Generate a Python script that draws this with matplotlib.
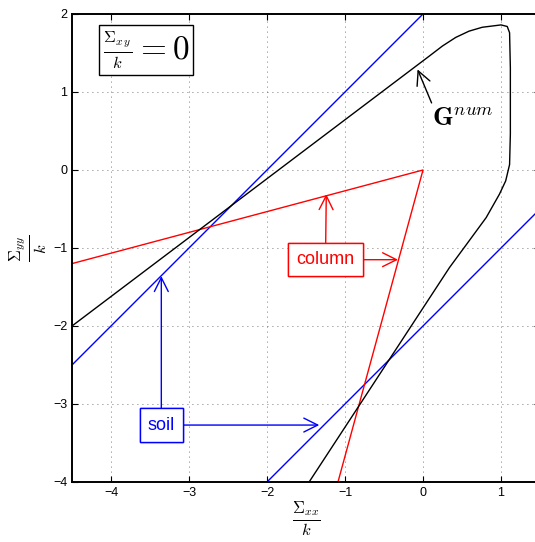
import numpy as np
import matplotlib
matplotlib.use('Agg')
import matplotlib.pyplot as plt

plt.rcParams['font.family'] = ['Liberation Sans', 'DejaVu Sans']
plt.rcParams['mathtext.fontset'] = 'cm'

#===============================================================================
# data
soil_upper_x = [-4.5, 0.0]
soil_upper_y = [-2.5, 2.0]
soil_lower_x = [-2.0, 1.5]
soil_lower_y = [-4.0, -0.5]

column_x = [-4.5, 0.0, -1.09]
column_y = [-1.2, 0.0, -4.0]

gnum_x = [-4.5, 0.08, 0.25, 0.42, 0.59, 0.76, 1.0, 1.08, 1.11, 1.12, 1.12,
          1.11, 1.06, 0.98, 0.81, 0.59, 0.34, -1.46]
gnum_y = [-2.0, 1.46, 1.59, 1.70, 1.78, 1.83, 1.86, 1.84, 1.76, 1.31, 0.46,
          0.07, -0.14, -0.31, -0.61, -0.91, -1.25, -4.0]

xticks = [-4, -3, -2, -1, 0, 1]
yticks = [-4, -3, -2, -1, 0, 1, 2]

#===============================================================================
fig = plt.figure(figsize=(5.35, 5.42), dpi=100)
ax = fig.add_axes([72/535, 60/542, 468/535, 468/542])

ax.plot(soil_upper_x, soil_upper_y, color='b', lw=1)
ax.plot(soil_lower_x, soil_lower_y, color='b', lw=1)
ax.plot(column_x, column_y, color='r', lw=1)
ax.plot(gnum_x, gnum_y, color='k', lw=1)

ax.set_xlim(-4.5, 1.5)
ax.set_ylim(-4, 2)
ax.set_xticks(xticks)
ax.set_yticks(yticks)
ax.set_xticklabels([str(t).replace('-', '\u2212') for t in xticks])
ax.set_yticklabels([str(t).replace('-', '\u2212') for t in yticks])
ax.tick_params(direction='in', top=True, right=True, labelsize=9, length=4)
ax.grid(True, color='0.3', linestyle=(0, (1, 5)), lw=0.6)
for s in ax.spines.values():
    s.set_linewidth(1.4)

ax.set_xlabel(r'$\frac{\Sigma_{xx}}{k}$', fontsize=17, labelpad=0)
ax.set_ylabel(r'$\frac{\Sigma_{yy}}{k}$', fontsize=17, labelpad=3)

# equation box
ax.text(-3.55, 1.54, r'$\genfrac{}{}{0.8}{2}{\Sigma_{x\,y}}{k} = 0$', fontsize=24,
        ha='center', va='center',
        bbox=dict(boxstyle='square,pad=0.12', fc='w', ec='k', lw=1))

# arrows with open heads
def arrow_props(c):
    return dict(arrowstyle='->,head_length=0.5,head_width=0.25', color=c, lw=1,
                mutation_scale=20, shrinkA=0, shrinkB=0)

col_box = dict(boxstyle='square,pad=0.45', fc='w', ec='r', lw=1)
ax.annotate('column', xy=(-1.24, -0.31), xytext=(-1.25, -1.15), color='r', fontsize=13,
            ha='center', va='center', bbox=col_box, arrowprops=arrow_props('r'))
ax.annotate('column', xy=(-0.32, -1.15), xytext=(-1.25, -1.15), color='r', fontsize=13,
            ha='center', va='center', bbox=col_box, arrowprops=arrow_props('r'))

soil_box = dict(boxstyle='square,pad=0.45', fc='w', ec='b', lw=1)
ax.annotate('soil', xy=(-3.355, -1.36), xytext=(-3.355, -3.27), color='b', fontsize=13,
            ha='center', va='center', bbox=soil_box, arrowprops=arrow_props('b'))
ax.annotate('soil', xy=(-1.33, -3.27), xytext=(-3.355, -3.27), color='b', fontsize=13,
            ha='center', va='center', bbox=soil_box, arrowprops=arrow_props('b'))

ax.text(0.12, 0.65, r'$\mathbf{G}^{num}$', fontsize=19, ha='left', va='center')
ax.annotate('', xy=(-0.07, 1.29), xytext=(0.11, 0.86), arrowprops=arrow_props('k'))

fig.savefig('out.png', dpi=100)
